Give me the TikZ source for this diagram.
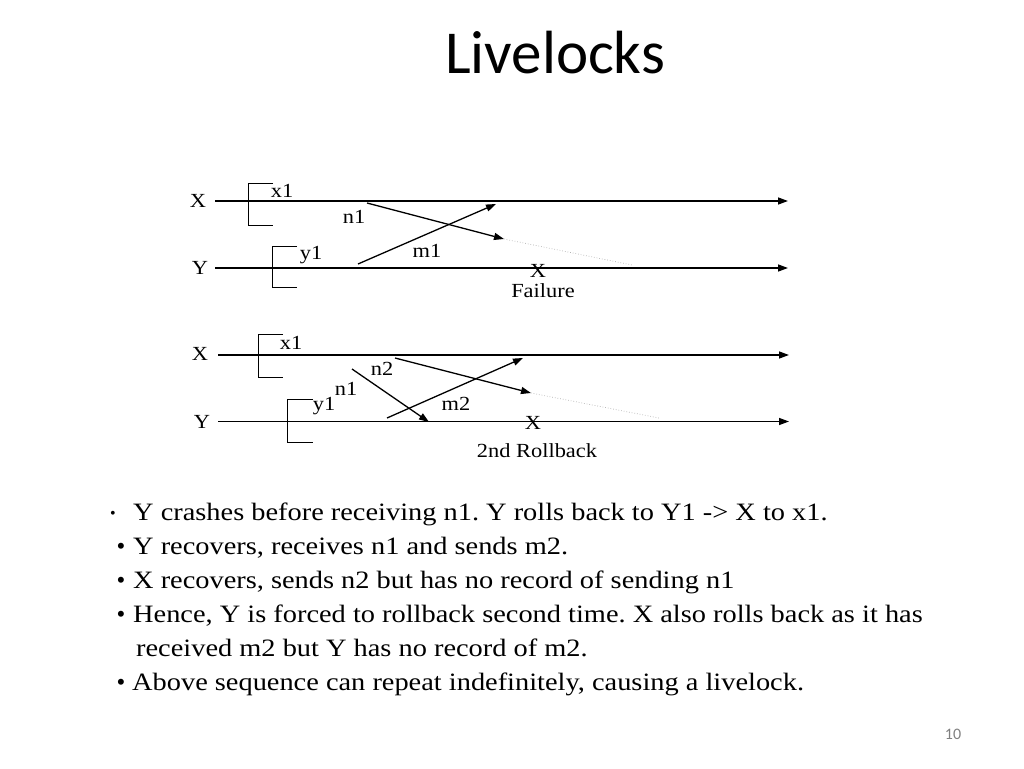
\documentclass[tikz,border=0pt]{standalone}
\usepackage{fontspec}
\setmainfont{Liberation Serif}
\newfontfamily\titlefont{Carlito}
\usetikzlibrary{arrows.meta}
\newcommand{\wide}[1]{\scalebox{1.12}[1]{#1}}
\newcommand{\bwide}[1]{\scalebox{1.135}[1]{#1}}
\frenchspacing
\begin{document}
\begin{tikzpicture}[x=1pt,y=-1pt]
\useasboundingbox[fill=white] (0,0) rectangle (1024,768);
\tikzset{
  msg/.style={line width=1.3pt,-{Triangle[length=10pt,width=7pt]}},
  timeline/.style={line width=1.3pt,-{Triangle[length=10pt,width=7pt]}},
  bracket/.style={line width=0.9pt},
  ghost/.style={gray!60,dotted,line width=0.7pt},
  lbl/.style={font=\fontsize{20}{22}\selectfont, inner sep=0pt},
  body/.style={font=\fontsize{25}{30}\selectfont, inner sep=0pt, anchor=base west},
  bul/.style={font=\fontsize{25}{30}\selectfont, inner sep=0pt, anchor=base},
}
% title
\node[font=\titlefont\fontsize{61}{70}\selectfont, inner sep=0pt, anchor=base] (title) at (555,73) {Livelocks};

% ---------- diagram 1 ----------
\node[lbl] (XA) at (198,201) {\wide{X}};
\node[lbl] (YA) at (200,268) {\wide{Y}};
\coordinate (XAs) at (215,201); \coordinate (XAe) at (788,201);
\coordinate (YAs) at (215,268); \coordinate (YAe) at (788,268);
\draw[timeline] (XAs) -- (XAe);
\draw[timeline] (YAs) -- (YAe);
\draw[bracket] (273,183) -| (248,225) -- (273,225);
\draw[bracket] (297,246) -| (272,287) -- (297,287);
\node[lbl] (xA1) at (282,191) {\wide{x1}};
\node[lbl] (yA1) at (311,255) {\wide{y1}};
\coordinate (nAs) at (367,203); \coordinate (nAe) at (504,239); \coordinate (nAg) at (632,265);
\coordinate (mAs) at (358,264); \coordinate (mAe) at (496,204);
\draw[msg] (nAs) -- (nAe);
\draw[ghost] (nAe) -- (nAg);
\draw[msg] (mAs) -- (mAe);
\node[lbl] (nA) at (354,217) {\wide{n1}};
\node[lbl] (mA) at (427,251) {\wide{m1}};
\node[lbl] (failX) at (538,271) {\wide{X}};
\node[lbl] (fail) at (543,291) {\wide{Failure}};

% ---------- diagram 2 ----------
\node[lbl] (XB) at (200,354) {\wide{X}};
\node[lbl] (YB) at (202,422) {\wide{Y}};
\coordinate (XBs) at (218,355); \coordinate (XBe) at (789,355);
\coordinate (YBs) at (218,421.5); \coordinate (YBe) at (789,421.5);
\draw[timeline] (XBs) -- (XBe);
\draw[timeline] (YBs) -- (YBe);
\draw[bracket] (283,334) -| (258,377) -- (283,377);
\draw[bracket] (313,399) -| (287,442) -- (313,442);
\node[lbl] (xB1) at (291,343) {\wide{x1}};
\node[lbl] (yB1) at (324,406) {\wide{y1}};
\coordinate (nBs) at (395,358); \coordinate (nBe) at (531,393); \coordinate (nBg) at (659,418);
\coordinate (n1s) at (352,369); \coordinate (n1e) at (429,422);
\coordinate (mBs) at (387,418); \coordinate (mBe) at (523,358);
\draw[msg] (nBs) -- (nBe);
\draw[ghost] (nBe) -- (nBg);
\draw[msg] (n1s) -- (n1e);
\draw[msg] (mBs) -- (mBe);
\node[lbl] (nB) at (382,369) {\wide{n2}};
\node[lbl] (nB1) at (346,389) {\wide{n1}};
\node[lbl] (mB) at (456,404) {\wide{m2}};
\node[lbl] (rbX) at (533,423) {\wide{X}};
\node[lbl] (rb) at (537,451) {\wide{2nd Rollback}};

% ---------- bullets ----------
\node[font=\fontsize{16}{18}\selectfont, inner sep=0pt, anchor=base] (b1) at (113,518) {\textbullet};
\node[body] (t1) at (133,520) {\bwide{Y crashes before receiving n1. Y rolls back to Y1 -> X to x1.}};
\node[bul] (b2) at (121,554) {\textbullet};
\node[body] (t2) at (133,554) {\bwide{Y recovers, receives n1 and sends m2.}};
\node[bul] (b3) at (121,588) {\textbullet};
\node[body] (t3) at (133,588) {\bwide{X recovers, sends n2 but has no record of sending n1}};
\node[bul] (b4) at (121,622) {\textbullet};
\node[body] (t4) at (133,622) {\bwide{Hence, Y is forced to rollback second time. X also rolls back as it has}};
\node[body] (t5) at (136,656) {\bwide{received m2 but Y has no record of m2.}};
\node[bul] (b6) at (121,690) {\textbullet};
\node[body] (t6) at (132,690) {\bwide{Above sequence can repeat indefinitely, causing a livelock.}};

% page number
\node[font=\titlefont\fontsize{16}{18}\selectfont, text=gray, inner sep=0pt] (pg) at (953,734) {10};
\end{tikzpicture}
\end{document}
